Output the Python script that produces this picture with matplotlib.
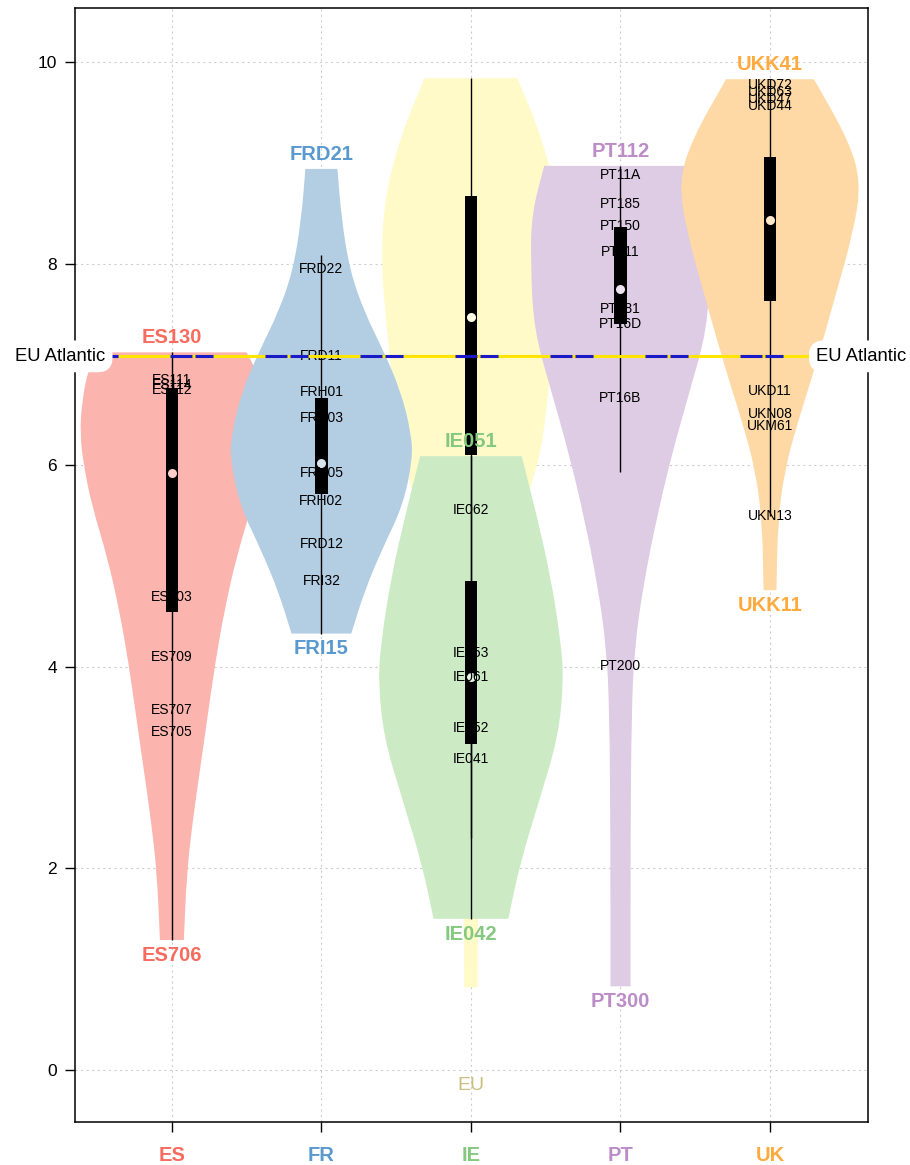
import numpy as np
import matplotlib
matplotlib.use("Agg")
import matplotlib.pyplot as plt
from matplotlib.path import Path
from matplotlib.patches import PathPatch
from matplotlib.transforms import blended_transform_factory

plt.rcParams["font.family"] = ["Liberation Sans", "DejaVu Sans"]
plt.rcParams["lines.scale_dashes"] = False

# ----- Data -----

countries = ["ES", "FR", "IE", "PT", "UK"]

# regions shown as labels (first = max, last = min)
es_regions = ["ES130", "ES111", "ES114", "ES112", "ES703", "ES709", "ES707", "ES705", "ES706"]
es_values = [7.12, 6.85, 6.80, 6.75, 4.69, 4.10, 3.57, 3.35, 1.29]
fr_regions = ["FRD21", "FRD22", "FRD11", "FRH01", "FRH03", "FRH05", "FRH02", "FRD12", "FRI32", "FRI15"]
fr_values = [8.94, 7.95, 7.08, 6.73, 6.47, 5.92, 5.65, 5.22, 4.85, 4.33]
ie_regions = ["IE051", "IE062", "IE053", "IE061", "IE052", "IE041", "IE042"]
ie_values = [6.09, 5.56, 4.14, 3.90, 3.39, 3.09, 1.50]
pt_regions = ["PT112", "PT11A", "PT185", "PT150", "PT111", "PT181", "PT16D", "PT16B", "PT200", "PT300"]
pt_values = [8.97, 8.88, 8.59, 8.37, 8.12, 7.55, 7.40, 6.67, 4.01, 0.83]
uk_regions = ["UKK41", "UKD72", "UKD63", "UKD47", "UKD44", "UKD11", "UKN08", "UKM61", "UKN13", "UKK11"]
uk_values = [9.83, 9.77, 9.70, 9.63, 9.56, 6.74, 6.51, 6.39, 5.50, 4.76]

# box stats: whisker low, q1, median, q3, whisker high
es_box = [1.29, 4.54, 5.92, 6.77, 7.12]
fr_box = [4.33, 5.71, 6.02, 6.67, 8.09]
ie_box = [1.50, 3.23, 3.90, 4.85, 6.09]
pt_box = [5.93, 7.40, 7.75, 8.36, 8.97]
uk_box = [5.50, 7.63, 8.43, 9.06, 9.83]
eu_box = [2.30, 6.10, 7.47, 8.67, 9.84]

# violin density profiles (level, half width)
es_level = [7.12, 6.95, 6.64, 6.32, 6.00, 5.60, 5.08, 4.55, 4.04, 3.52, 3.00, 2.48, 1.96, 1.29]
es_width = [0.50, 0.56, 0.60, 0.615, 0.59, 0.535, 0.43, 0.35, 0.29, 0.24, 0.19, 0.14, 0.10, 0.08]
fr_level = [8.94, 8.45, 7.93, 7.51, 7.15, 6.74, 6.32, 6.06, 5.60, 5.18, 4.76, 4.33]
fr_width = [0.107, 0.134, 0.19, 0.29, 0.41, 0.53, 0.60, 0.61, 0.545, 0.41, 0.29, 0.20]
ie_level = [6.09, 5.50, 4.88, 4.26, 3.88, 3.31, 2.69, 2.06, 1.50]
ie_width = [0.34, 0.44, 0.535, 0.60, 0.62, 0.585, 0.46, 0.33, 0.25]
pt_level = [8.97, 8.49, 7.99, 7.35, 6.72, 6.09, 5.46, 4.82, 4.19, 3.56, 2.29, 0.83]
pt_width = [0.51, 0.595, 0.60, 0.58, 0.46, 0.34, 0.24, 0.154, 0.094, 0.074, 0.067, 0.067]
uk_level = [9.83, 9.24, 8.81, 8.30, 7.67, 7.03, 6.40, 5.96, 5.46, 4.76]
uk_width = [0.294, 0.52, 0.61, 0.555, 0.435, 0.314, 0.18, 0.10, 0.053, 0.043]
eu_level = [9.84, 9.27, 8.64, 8.00, 7.38, 6.75, 6.13, 5.75, 5.00, 4.00, 3.00, 2.00, 1.50, 0.82]
eu_width = [0.31, 0.47, 0.58, 0.60, 0.565, 0.52, 0.47, 0.39, 0.26, 0.14, 0.08, 0.055, 0.047, 0.045]

eu_atlantic = 7.08

violin_colors = ["#FBB4AE", "#B3CDE3", "#CCEBC5", "#DECBE4", "#FED9A6"]
dot_colors = ["#FCCFCA", "#D6E4F0", "#E3F4DF", "#EEE3F1", "#FEE8C9"]
label_colors = ["#F86B5E", "#5A99CF", "#84C97F", "#BC8CC6", "#FFAA3F"]
eu_color = "#FFFAC8"
eu_dot = "#FFFDE6"
eu_label_color = "#C9BF7E"

regions = [es_regions, fr_regions, ie_regions, pt_regions, uk_regions]
values = [es_values, fr_values, ie_values, pt_values, uk_values]
boxes = [es_box, fr_box, ie_box, pt_box, uk_box]
levels = [es_level, fr_level, ie_level, pt_level, uk_level]
widths = [es_width, fr_width, ie_width, pt_width, uk_width]

narrow = ["Liberation Sans Narrow", "Liberation Sans", "DejaVu Sans"]


def side_path(pts):
    """ smooth outline through the profile (quadratic curves between midpoints) """
    verts = [pts[0], (pts[0] + pts[1]) / 2]
    codes = [Path.LINETO, Path.LINETO]
    for i in range(1, len(pts) - 1):
        verts += [pts[i], (pts[i] + pts[i + 1]) / 2]
        codes += [Path.CURVE3, Path.CURVE3]
    verts.append(pts[-1])
    codes.append(Path.LINETO)
    return verts, codes


def draw_violin(ax, pos, lv, wd, color, zorder):
    lv = np.asarray(lv)
    wd = np.asarray(wd)
    right = np.column_stack([pos + wd, lv])
    left = np.column_stack([pos - wd, lv])[::-1]
    v1, c1 = side_path(right)
    v2, c2 = side_path(left)
    c1[0] = Path.MOVETO
    verts = v1 + v2 + [v1[0]]
    codes = c1 + c2 + [Path.CLOSEPOLY]
    ax.add_patch(PathPatch(Path(verts, codes), fc=color, ec="none", zorder=zorder))


def draw_box(ax, pos, stats, dot):
    lo, q1, med, q3, hi = stats
    ax.vlines(pos, lo, hi, color="black", lw=1.0, zorder=4)
    ax.bar(pos, q3 - q1, bottom=q1, width=0.085, color="black", zorder=5)
    ax.plot(pos, med, "o", ms=6.5, color=dot, mec="none", zorder=6)


# ----- Figure -----

fig = plt.figure(figsize=(9.1, 11.65), dpi=100)
ax = fig.add_axes([0.0824, 0.0369, 0.8714, 0.9562])

positions = np.arange(1, len(countries) + 1)
eu_pos = 3

# grid behind everything
for y in range(0, 11, 2):
    ax.axhline(y, color="#cccccc", lw=0.8, ls=(0, (1.5, 2.5)), zorder=0)
for x in positions:
    ax.axvline(x, color="#cccccc", lw=0.8, ls=(0, (1.5, 2.5)), zorder=0)

# EU violin first (under country violins)
draw_violin(ax, eu_pos, eu_level, eu_width, eu_color, 1)
for pos, lv, wd, col in zip(positions, levels, widths, violin_colors):
    draw_violin(ax, pos, lv, wd, col, 2)

draw_box(ax, eu_pos, eu_box, eu_dot)
for pos, stats, dot in zip(positions, boxes, dot_colors):
    draw_box(ax, pos, stats, dot)

# region labels
for pos, regs, vals, lcol in zip(positions, regions, values, label_colors):
    for i, (reg, val) in enumerate(zip(regs, vals)):
        if i == 0:
            ax.annotate(reg, (pos, val), xytext=(0, 10.5), textcoords="offset points",
                        ha="center", va="center", fontsize=14.5, fontweight="bold",
                        color=lcol, zorder=7)
        elif i == len(regs) - 1:
            ax.annotate(reg, (pos, val), xytext=(0, -11), textcoords="offset points",
                        ha="center", va="center", fontsize=14.5, fontweight="bold",
                        color=lcol, zorder=7)
        else:
            ax.text(pos, val, reg, ha="center", va="center", fontsize=10,
                    color="black", zorder=7)

ax.text(eu_pos, -0.15, "EU", ha="center", va="center", fontsize=14,
        color=eu_label_color, family=narrow, zorder=7)

# EU Atlantic reference line
ax.axhline(eu_atlantic, color="#FFE500", lw=2.2, zorder=8)
ax.axhline(eu_atlantic, color="#1A1AC8", lw=2.2, dashes=(15.8, 2.2, 13, 37.4), zorder=9)

trans = blended_transform_factory(ax.transAxes, ax.transData)
box_style = dict(boxstyle="round,pad=0.4,rounding_size=0.8", fc="white", ec="none")
ax.text(0.038, eu_atlantic, "EU Atlantic", transform=trans, ha="right", va="center",
        fontsize=13.3, bbox=box_style, clip_on=False, zorder=10)
ax.text(0.935, eu_atlantic, "EU Atlantic", transform=trans, ha="left", va="center",
        fontsize=13.3, bbox=box_style, clip_on=False, zorder=10)

# axes settings
ax.set_xlim(0.352, 5.655)
ax.set_ylim(-0.516, 10.536)
ax.set_yticks(range(0, 11, 2))
ax.set_xticks(positions)
ax.set_xticklabels(countries, fontweight="bold", fontsize=14.5, family=narrow)
for lab, lcol in zip(ax.get_xticklabels(), label_colors):
    lab.set_color(lcol)
ax.tick_params(axis="x", length=7, width=1, pad=10)
ax.tick_params(axis="y", length=7, width=1, pad=6, labelsize=12.5)
for sp in ax.spines.values():
    sp.set_linewidth(1.1)
    sp.set_zorder(3)

fig.savefig("out.png", dpi=100)
